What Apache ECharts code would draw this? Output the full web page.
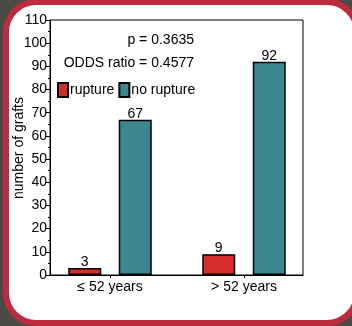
<!DOCTYPE html>
<html>
<head>
<meta charset="utf-8">
<script src="https://cdn.jsdelivr.net/npm/echarts@6/dist/echarts.min.js"></script>
<style>
  html, body { margin: 0; padding: 0; background: #4a4b46; overflow: hidden; }
  #chart { width: 352px; height: 326px; }
</style>
</head>
<body>
<div id="chart"></div>
<script>
// Age groups and graft counts
const categories = ['≤ 52 years', '> 52 years'];
const rupture = [3, 9];
const noRupture = [67, 92];
const yTicks = { min: 0, max: 110, step: 10 };
const statLines = ['p = 0.3635', 'ODDS ratio = 0.4577'];
const yTitle = 'number of grafts';

const FONT = 'Liberation Sans, Arial, sans-serif';
const chart = echarts.init(document.getElementById('chart'), null, { renderer: 'canvas' });

const option = {
  backgroundColor: '#4a4b46',
  animation: false,
  textStyle: { fontFamily: FONT, color: '#000' },
  graphic: [
    // white panel with red rounded border
    {
      type: 'rect', z: -10, x: 0, y: 0,
      shape: { x: 6, y: 2, width: 351, height: 321, r: 30 },
      style: { fill: '#fff', stroke: '#be2a3e', lineWidth: 6 }
    },
    {
      type: 'text', x: 194, y: 40,
      style: { text: statLines[0], font: '14px ' + FONT, fill: '#000', textAlign: 'right', textVerticalAlign: 'middle' }
    },
    {
      type: 'text', x: 194, y: 63,
      style: { text: statLines[1], font: '14px ' + FONT, fill: '#000', textAlign: 'right', textVerticalAlign: 'middle' }
    },
    {
      type: 'text', x: 19, y: 148, rotation: Math.PI / 2,
      style: { text: yTitle, font: '14px ' + FONT, fill: '#000', textAlign: 'center', textVerticalAlign: 'middle' }
    }
  ],
  legend: {
    left: 57, top: 82, padding: 0,
    itemWidth: 10, itemHeight: 14, itemGap: 4,
    icon: 'rect',
    textStyle: { fontSize: 14, color: '#000', fontFamily: FONT, padding: [0, 0, 0, -3] },
    data: ['rupture', 'no rupture']
  },
  grid: [
    // framed plotting area
    { left: 50, right: 49, top: 20, bottom: 51, show: true, borderColor: '#000', borderWidth: 1, backgroundColor: 'transparent' },
    // bar placement area
    { left: 43, right: 41, top: 20, bottom: 51 }
  ],
  xAxis: [
    {
      gridIndex: 0, type: 'category', data: categories,
      axisLine: { show: true, lineStyle: { color: '#000', width: 1 } },
      axisTick: { show: false }, axisLabel: { show: false }
    },
    {
      gridIndex: 1, type: 'category', data: categories,
      axisLine: { show: false },
      axisTick: { show: true, alignWithLabel: true, length: 3, lineStyle: { color: '#000' } },
      axisLabel: { fontSize: 14, color: '#000', margin: 5, fontFamily: FONT }
    }
  ],
  yAxis: [
    {
      gridIndex: 0, type: 'value',
      min: yTicks.min, max: yTicks.max, interval: yTicks.step,
      axisLine: { show: true, lineStyle: { color: '#000', width: 1 } },
      axisTick: { show: true, length: 4, lineStyle: { color: '#000' } },
      minorTick: { show: true, splitNumber: 2, length: 2, lineStyle: { color: '#000' } },
      axisLabel: { fontSize: 14, color: '#000', margin: 3, fontFamily: FONT },
      splitLine: { show: false }
    },
    {
      gridIndex: 1, type: 'value',
      min: yTicks.min, max: yTicks.max, interval: yTicks.step,
      show: false, splitLine: { show: false }
    }
  ],
  series: [
    {
      name: 'rupture', type: 'bar', xAxisIndex: 1, yAxisIndex: 1,
      data: rupture, barWidth: 33, barGap: '53%',
      itemStyle: { color: '#d62c2c', borderColor: '#000', borderWidth: 1.5 },
      label: { show: true, position: 'top', distance: -1, fontSize: 14, color: '#000', fontFamily: FONT }
    },
    {
      name: 'no rupture', type: 'bar', xAxisIndex: 1, yAxisIndex: 1,
      data: noRupture, barWidth: 33, barGap: '53%',
      itemStyle: { color: '#3d8690', borderColor: '#000', borderWidth: 1.5 },
      label: { show: true, position: 'top', distance: -1, fontSize: 14, color: '#000', fontFamily: FONT }
    }
  ]
};
chart.setOption(option);
</script>
</body>
</html>
